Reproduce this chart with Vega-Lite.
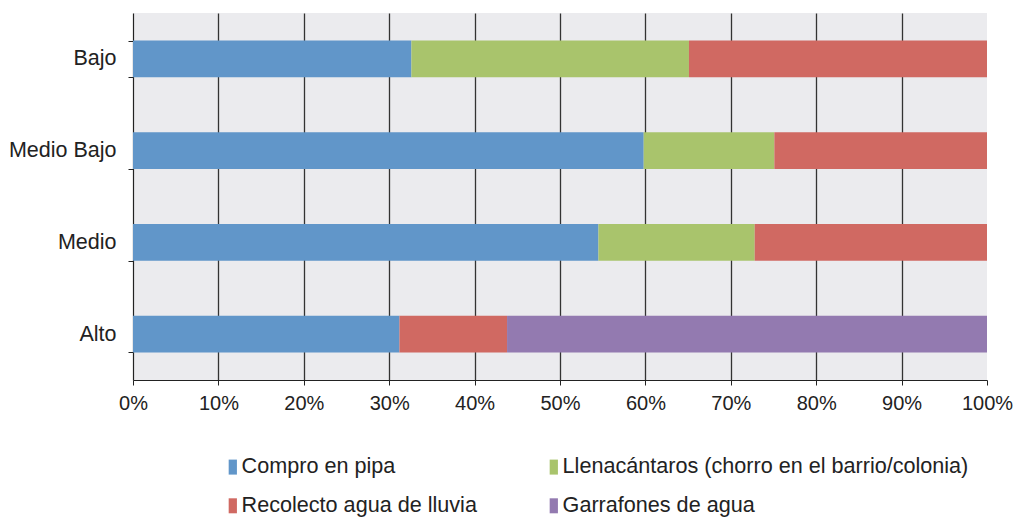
{
  "$schema": "https://vega.github.io/schema/vega-lite/v6.json",
  "width": 854,
  "height": 367,
  "autosize": {"type": "none"},
  "padding": {"left": 133, "top": 13, "right": 30, "bottom": 139},
  "background": "white",
  "config": {
    "font": "Liberation Sans",
    "view": {"fill": "#EBEBEE", "stroke": null}
  },
  "data": {
    "values": [
      {"nivel": "Bajo", "fuente": "Compro en pipa", "orden": 1, "pct": 32.6},
      {"nivel": "Bajo", "fuente": "Llenacántaros (chorro en el barrio/colonia)", "orden": 2, "pct": 32.5},
      {"nivel": "Bajo", "fuente": "Recolecto agua de lluvia", "orden": 3, "pct": 34.9},
      {"nivel": "Medio Bajo", "fuente": "Compro en pipa", "orden": 1, "pct": 59.8},
      {"nivel": "Medio Bajo", "fuente": "Llenacántaros (chorro en el barrio/colonia)", "orden": 2, "pct": 15.3},
      {"nivel": "Medio Bajo", "fuente": "Recolecto agua de lluvia", "orden": 3, "pct": 24.9},
      {"nivel": "Medio", "fuente": "Compro en pipa", "orden": 1, "pct": 54.5},
      {"nivel": "Medio", "fuente": "Llenacántaros (chorro en el barrio/colonia)", "orden": 2, "pct": 18.3},
      {"nivel": "Medio", "fuente": "Recolecto agua de lluvia", "orden": 3, "pct": 27.2},
      {"nivel": "Alto", "fuente": "Compro en pipa", "orden": 1, "pct": 31.2},
      {"nivel": "Alto", "fuente": "Recolecto agua de lluvia", "orden": 3, "pct": 12.6},
      {"nivel": "Alto", "fuente": "Garrafones de agua", "orden": 4, "pct": 56.2}
    ]
  },
  "mark": {"type": "bar"},
  "encoding": {
    "y": {
      "field": "nivel",
      "type": "nominal",
      "sort": ["Bajo", "Medio Bajo", "Medio", "Alto"],
      "scale": {"paddingInner": 0.6, "paddingOuter": 0.3},
      "axis": {
        "title": null,
        "tickBand": "extent",
        "domainColor": "#222",
        "domainWidth": 1.2,
        "tickColor": "#222",
        "tickSize": 5,
        "labelFontSize": 21.5,
        "labelColor": "#222",
        "labelPadding": 12
      }
    },
    "x": {
      "field": "pct",
      "type": "quantitative",
      "stack": "zero",
      "scale": {"domain": [0, 100], "nice": false},
      "axis": {
        "title": null,
        "values": [0, 10, 20, 30, 40, 50, 60, 70, 80, 90, 100],
        "labelExpr": "datum.value + '%'",
        "grid": true,
        "gridColor": "#333",
        "gridWidth": 1.3,
        "gridOpacity": {"condition": {"test": "datum.value === 100 || datum.value === 0", "value": 0}, "value": 1},
        "domainColor": "#222",
        "domainWidth": 1.2,
        "tickColor": "#222",
        "tickSize": 5,
        "labelFontSize": 20,
        "labelColor": "#222",
        "labelPadding": 8,
        "labelFlush": false
      }
    },
    "color": {
      "field": "fuente",
      "type": "nominal",
      "scale": {
        "domain": ["Compro en pipa", "Llenacántaros (chorro en el barrio/colonia)", "Recolecto agua de lluvia", "Garrafones de agua"],
        "range": ["#6196C9", "#A9C46C", "#D06962", "#937AB0"]
      },
      "legend": {
        "title": null,
        "orient": "none",
        "legendX": 89,
        "legendY": 443,
        "direction": "horizontal",
        "columns": 2,
        "columnPadding": 66,
        "rowPadding": 16,
        "symbolType": "M-0.55,-1H0.55V1H-0.55Z",
        "symbolSize": 225,
        "symbolStrokeWidth": 0,
        "labelFontSize": 21.6,
        "labelColor": "#222",
        "labelOffset": -2,
        "labelLimit": 0
      }
    },
    "order": {"field": "orden", "type": "quantitative"}
  }
}
